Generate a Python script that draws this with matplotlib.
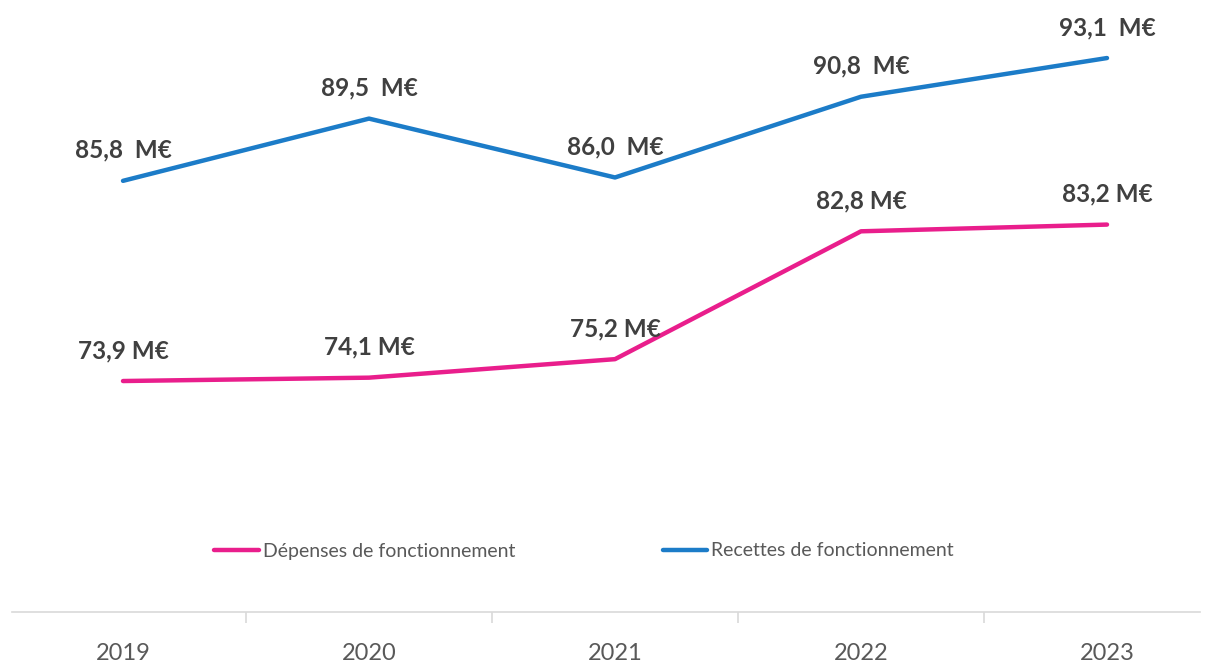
import matplotlib
matplotlib.use("Agg")
import matplotlib.pyplot as plt

years = ["2019", "2020", "2021", "2022", "2023"]
depenses = [73.9, 74.1, 75.2, 82.8, 83.2]
recettes = [85.8, 89.5, 86.0, 90.8, 93.1]
dep_labels = ["73,9 M€", "74,1 M€", "75,2 M€", "82,8 M€", "83,2 M€"]
rec_labels = ["85,8  M€", "89,5  M€", "86,0  M€", "90,8  M€", "93,1  M€"]

pink = "#E91E8C"
blue = "#1C7CC8"

plt.rcParams["font.family"] = ["Lato", "DejaVu Sans"]

fig = plt.figure(figsize=(12.11, 6.62), dpi=100)
ax = fig.add_axes([0, 50 / 662, 1230 / 1211, 612 / 662])

x = range(len(years))
ax.plot(x, depenses, color=pink, lw=3.2, solid_capstyle="round",
        label="Dépenses de fonctionnement")
ax.plot(x, recettes, color=blue, lw=3.2, solid_capstyle="round",
        label="Recettes de fonctionnement")

for xi, v, t in zip(x, depenses, dep_labels):
    ax.annotate(t, (xi, v), xytext=(0, 22), textcoords="offset points",
                ha="center", va="center", fontsize=17.5, fontweight="bold",
                color="#404040")
for xi, v, t in zip(x, recettes, rec_labels):
    ax.annotate(t, (xi, v), xytext=(0, 22), textcoords="offset points",
                ha="center", va="center", fontsize=17.5, fontweight="bold",
                color="#404040")

ax.set_xlim(-0.5, 4.5)
ax.set_ylim(60.17, 96.55)
for s in ax.spines.values():
    s.set_visible(False)
ax.axhline(60.17, xmin=12 / 1230, xmax=1200 / 1230, color="#D9D9D9", lw=1.2,
           clip_on=False)
ax.set_yticks([])
ax.set_xticks(list(x))
ax.set_xticklabels(years, fontsize=17, color="#595959")
ax.set_xticks([0.5, 1.5, 2.5, 3.5], minor=True)
ax.tick_params(axis="x", which="major", length=0, pad=22)
ax.tick_params(axis="x", which="minor", length=8, width=1.2,
               color="#D9D9D9", direction="out")

leg = ax.legend(loc="center", bbox_to_anchor=(584 / 1230, 61 / 612), ncol=2,
                frameon=False, fontsize=14, handlelength=2.3,
                handletextpad=0.2, columnspacing=7.6)
for t in leg.get_texts():
    t.set_color("#595959")

fig.savefig("out.png", dpi=100)
